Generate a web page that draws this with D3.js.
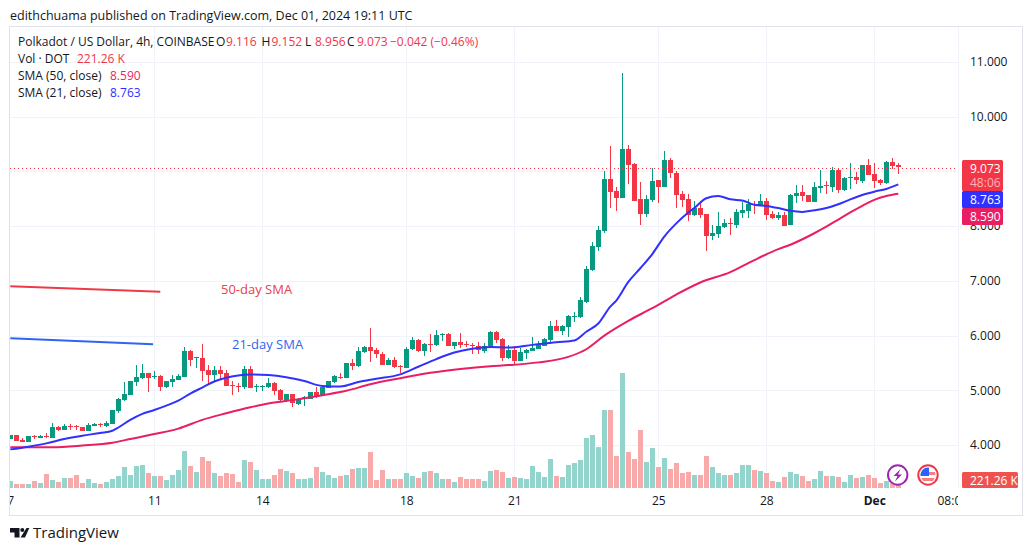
<!DOCTYPE html>
<html><head><meta charset="utf-8">
<script src="https://cdnjs.cloudflare.com/ajax/libs/d3/7.8.5/d3.min.js"></script>
<style>
html,body{margin:0;padding:0;background:#fff;overflow:hidden}
svg{display:block}
text{font-family:"Open Sans",Roboto,sans-serif}
</style></head><body><svg id="c" width="1033" height="551"></svg>
<script>
const opens=[4.11,4.18,4.09,4.05,4.16,4.13,4.16,4.13,4.33,4.27,4.34,4.34,4.33,4.26,4.35,4.38,4.35,4.38,4.62,4.82,4.91,5.15,5.22,5.32,5.25,5.26,5.06,5.15,5.19,5.24,5.72,5.59,5.59,5.37,5.28,5.37,5.32,5.09,5.08,5.06,5.39,5.07,5.07,5.06,5.13,5.00,4.80,4.93,4.75,4.87,4.84,4.97,4.90,5.04,5.15,5.25,5.22,5.50,5.44,5.70,5.79,5.74,5.66,5.46,5.55,5.44,5.41,5.75,5.92,5.72,5.85,5.83,6.02,6.03,5.81,5.88,5.85,5.83,5.81,5.72,5.81,6.06,5.94,5.59,5.74,5.53,5.68,5.72,5.75,5.81,5.92,6.17,6.08,6.16,6.34,6.34,6.61,7.20,7.62,7.91,8.86,8.64,8.51,9.41,9.14,8.50,8.22,8.48,8.84,8.72,9.21,8.97,8.59,8.50,8.20,8.33,8.22,7.82,7.86,7.98,8.06,8.02,8.24,8.28,8.40,8.37,8.46,8.22,8.15,8.20,8.02,8.55,8.62,8.57,8.44,8.70,8.75,8.72,9.03,8.66,8.88,8.90,8.83,9.12,8.95,8.84,8.79,9.17,9.116];
const highs=[4.19,4.18,4.13,4.16,4.19,4.19,4.22,4.40,4.35,4.38,4.38,4.37,4.33,4.40,4.40,4.40,4.44,4.64,4.86,5.16,5.17,5.46,5.48,5.32,5.35,5.28,5.17,5.28,5.30,5.79,5.74,5.61,5.85,5.46,5.44,5.44,5.37,5.17,5.13,5.44,5.44,5.11,5.10,5.22,5.15,5.02,4.93,4.93,4.86,4.90,4.97,5.06,5.08,5.17,5.28,5.32,5.50,5.57,5.79,5.81,6.14,5.77,5.70,5.59,5.61,5.46,5.79,5.97,5.94,5.86,6.03,6.10,6.05,6.05,5.88,6.05,5.90,5.86,5.88,5.86,6.08,6.08,5.96,5.83,5.81,5.77,5.75,5.97,5.90,5.95,6.27,6.28,6.19,6.38,6.43,6.70,7.27,7.71,8.00,9.01,9.46,8.72,10.80,9.48,9.15,8.81,8.57,9.06,8.84,9.37,9.25,9.01,8.64,8.59,8.46,8.44,8.22,8.02,8.26,8.13,8.15,8.31,8.44,8.49,8.46,8.59,8.51,8.28,8.26,8.26,8.59,8.75,8.75,8.57,8.81,9.03,8.83,9.08,9.06,8.90,9.15,8.99,9.12,9.23,9.15,8.86,9.19,9.25,9.152];
const lows=[4.11,4.07,4.05,4.05,4.11,4.13,4.13,4.13,4.26,4.27,4.27,4.27,4.26,4.26,4.35,4.33,4.33,4.38,4.59,4.80,4.91,5.08,5.21,4.97,5.21,4.99,5.04,5.06,5.19,5.24,5.44,5.41,5.17,5.11,5.15,5.19,5.07,4.91,4.97,5.02,5.04,4.97,4.99,5.04,4.91,4.80,4.79,4.69,4.73,4.71,4.84,4.86,4.90,5.04,5.13,5.21,5.22,5.37,5.43,5.68,5.52,5.59,5.46,5.46,5.41,5.32,5.41,5.74,5.70,5.63,5.70,5.81,5.90,5.81,5.75,5.77,5.79,5.66,5.66,5.68,5.81,5.86,5.53,5.57,5.46,5.53,5.57,5.72,5.75,5.81,5.88,6.08,6.01,5.97,6.25,6.32,6.59,7.18,7.55,7.87,8.33,8.28,8.51,8.77,8.46,8.02,8.17,8.44,8.42,8.72,8.88,8.33,8.35,8.09,8.19,8.15,7.55,7.75,7.78,7.97,7.84,7.97,8.15,8.15,8.22,8.37,8.11,8.13,8.11,8.00,8.02,8.42,8.46,8.44,8.44,8.61,8.59,8.62,8.61,8.64,8.68,8.77,8.79,8.93,8.70,8.75,8.77,9.04,8.956];
const closes=[4.19,4.07,4.06,4.16,4.15,4.17,4.15,4.33,4.27,4.35,4.33,4.33,4.26,4.37,4.38,4.37,4.40,4.64,4.84,4.93,5.17,5.24,5.32,5.22,5.26,5.06,5.17,5.21,5.26,5.72,5.55,5.60,5.35,5.28,5.37,5.30,5.08,5.08,5.07,5.39,5.04,5.08,5.08,5.13,4.99,4.82,4.93,4.77,4.84,4.88,4.97,4.88,5.06,5.17,5.26,5.22,5.50,5.44,5.72,5.79,5.72,5.66,5.46,5.55,5.43,5.43,5.75,5.92,5.72,5.85,5.84,6.01,6.03,5.81,5.88,5.83,5.84,5.81,5.74,5.81,6.06,5.92,5.59,5.74,5.53,5.70,5.74,5.77,5.83,5.94,6.17,6.08,6.17,6.36,6.35,6.65,7.22,7.64,7.93,8.86,8.62,8.51,9.41,9.12,8.46,8.22,8.50,8.82,8.72,9.21,8.97,8.57,8.48,8.20,8.33,8.20,7.82,7.87,8.00,8.06,8.05,8.26,8.29,8.40,8.38,8.46,8.20,8.15,8.20,8.00,8.57,8.61,8.55,8.44,8.72,8.73,8.74,9.03,8.66,8.88,8.90,8.84,9.12,8.93,8.83,8.79,9.17,9.10,9.073];
const volumesK=[350,200,200,200,350,250,700,400,300,500,500,650,250,450,250,200,300,450,600,1050,650,1100,1150,750,600,600,400,650,900,1850,1100,800,1550,1350,750,600,750,700,300,1400,1300,900,450,450,650,950,850,750,450,450,500,1050,800,650,500,600,650,950,1000,1000,1800,400,900,450,450,450,750,600,500,800,850,750,450,450,300,550,450,450,450,350,850,900,800,500,550,500,450,1100,800,550,1450,600,550,1150,1250,1400,2500,2650,2050,3900,3900,1600,5750,1800,1450,2900,1300,2000,1050,1500,950,1250,750,800,650,650,1580,1030,730,630,630,730,1130,1150,900,850,750,350,300,550,800,700,600,350,450,850,600,600,550,300,650,500,550,650,500,250,350,230,221.26];
const sma21Index=[0,3,6,9,12,15,17,18,20,22,24,26,28,30,32,34,36,38,40,43,46,49,52,55,58,61,65,68,71,74,77,80,83,87,91,94,96,98,100,101,103,105,107,109,111,113,114,116,118,120,122,124,126,128,130,132,134,136,138,140,142,144,146,148];
const sma21Values=[3.92,3.97,4.03,4.11,4.17,4.22,4.26,4.32,4.46,4.57,4.64,4.72,4.81,4.94,5.05,5.16,5.23,5.27,5.29,5.28,5.24,5.17,5.08,5.07,5.15,5.21,5.29,5.43,5.57,5.69,5.76,5.79,5.78,5.83,5.88,5.91,6.07,6.22,6.53,6.64,6.98,7.23,7.49,7.81,8.05,8.25,8.33,8.51,8.55,8.49,8.47,8.39,8.37,8.33,8.28,8.26,8.29,8.33,8.40,8.49,8.57,8.63,8.68,8.763];
const sma50Index=[0,4,7,12,17,20,24,28,32,36,40,43,47,52,56,60,65,70,75,80,83,88,93,96,99,103,107,111,115,120,124,128,130,134,136,138,140,142,144,146,148];
const sma50Values=[3.96,3.96,3.96,3.99,4.04,4.11,4.20,4.30,4.46,4.58,4.69,4.76,4.82,4.91,4.99,5.11,5.22,5.32,5.39,5.44,5.46,5.51,5.61,5.75,6.00,6.27,6.50,6.75,6.97,7.16,7.38,7.58,7.66,7.87,7.99,8.12,8.25,8.37,8.48,8.55,8.590];
const priceTicks=[4,5,6,7,8,9,10,11];
const timeTickIndex=[0,24,42,66,84,108,126,144,157];
const timeTickLabels=["7","11","14","18","21","25","28","Dec","08:00"];
const annotationIndex=[0,25];
const annotation50=[6.90,6.80];
const annotation21=[5.95,5.84];
const legendLines=[["Polkadot / US Dollar, 4h, COINBASE",""],["Vol · DOT",""],["SMA (50, close)",""],["SMA (21, close)",""]];
const ohlc=[["O","9.116"],["H","9.152"],["L","8.956"],["C","9.073"]];
const changeText="−0.042 (−0.46%)";

const GREEN="#089981",RED="#f23645",BLUE="#3030ff",PINK="#e91e63",INK="#131722",FRAME="#e0e3eb",GRID="#f0f3fa";
const svg=d3.select("#c");
const paneL=10,paneR=958,paneT=27,paneB=488;
const x=d3.scaleLinear().domain([0,148]).range([10.3,898.3]);
const y=d3.scaleLinear().domain([4,11]).range([445,62]);
const yV=d3.scaleLinear().domain([0,6000]).range([488,368]);
const defs=svg.append("defs");
defs.append("clipPath").attr("id","pane").append("rect").attr("x",paneL).attr("y",paneT).attr("width",paneR-paneL).attr("height",paneB-paneT);
defs.append("clipPath").attr("id","timeClip").append("rect").attr("x",paneL).attr("y",489).attr("width",paneR-paneL).attr("height",26);
defs.append("clipPath").attr("id","flagClip").append("circle").attr("cx",928).attr("cy",475).attr("r",7.5);

// grid
const grid=svg.append("g").attr("shape-rendering","crispEdges");
grid.selectAll("line.h").data(priceTicks).join("line").attr("x1",paneL).attr("x2",paneR).attr("y1",d=>Math.round(y(d))+.5).attr("y2",d=>Math.round(y(d))+.5).attr("stroke",GRID);
grid.selectAll("line.v").data(timeTickIndex.slice(1,8)).join("line").attr("class","v").attr("y1",paneT).attr("y2",paneB).attr("x1",d=>Math.round(x(d))+.5).attr("x2",d=>Math.round(x(d))+.5).attr("stroke",GRID);

const pane=svg.append("g").attr("clip-path","url(#pane)");
// volume
pane.append("g").selectAll("rect").data(volumesK).join("rect")
 .attr("x",(d,i)=>x(i)-2.5).attr("width",5).attr("y",d=>yV(d)).attr("height",d=>yV(0)-yV(d))
 .attr("fill",(d,i)=>closes[i]>=opens[i]?"#93d4cd":"#f8a9a9").attr("shape-rendering","crispEdges");
// sma annotation segments
const annLine=d3.line().x((d,i)=>x(annotationIndex[i])).y(d=>y(d));
pane.append("path").attr("d",annLine(annotation50)).attr("fill","none").attr("stroke","#ee3a48").attr("stroke-width",2);
pane.append("path").attr("d",d3.line().x((d,i)=>x(i?23.8:0)).y(d=>y(d))(annotation21)).attr("fill","none").attr("stroke","#2f66f0").attr("stroke-width",2);
// candles
const cg=pane.append("g").selectAll("g").data(closes).join("g").attr("fill",(d,i)=>d>=opens[i]?GREEN:RED).attr("stroke",(d,i)=>d>=opens[i]?GREEN:RED).attr("shape-rendering","crispEdges");
cg.append("line").attr("x1",(d,i)=>Math.round(x(i))+.5).attr("x2",(d,i)=>Math.round(x(i))+.5).attr("y1",(d,i)=>y(highs[i])).attr("y2",(d,i)=>y(lows[i])).attr("stroke-width",1);
cg.append("rect").attr("stroke","none").attr("x",(d,i)=>Math.round(x(i))+.5-2.5).attr("width",5)
 .attr("y",(d,i)=>y(Math.max(d,opens[i]))).attr("height",(d,i)=>Math.max(1,Math.abs(y(d)-y(opens[i]))));
// SMAs
const sm=(idx)=>d3.line().x((d,i)=>x(idx[i])).y(d=>y(d)).curve(d3.curveMonotoneX);
pane.append("path").attr("d",sm(sma50Index)(sma50Values)).attr("fill","none").attr("stroke",PINK).attr("stroke-width",2);
pane.append("path").attr("d",sm(sma21Index)(sma21Values)).attr("fill","none").attr("stroke",BLUE).attr("stroke-width",2);
// last price dotted
svg.append("line").attr("x1",paneL).attr("x2",paneR).attr("y1",168.5).attr("y2",168.5).attr("stroke",RED).attr("stroke-dasharray","1 3").attr("shape-rendering","crispEdges");

// frame
svg.append("rect").attr("x",9.5).attr("y",26.5).attr("width",1012.5).attr("height",489).attr("fill","none").attr("stroke",FRAME).attr("shape-rendering","crispEdges");
svg.append("line").attr("x1",958.5).attr("x2",958.5).attr("y1",27).attr("y2",488).attr("stroke",GRID).attr("shape-rendering","crispEdges");

// axes
const ya=d3.axisRight(y).tickValues(priceTicks).tickFormat(d3.format(".3f")).tickSize(0).tickPadding(0);
const yg=svg.append("g").attr("transform","translate(970,0)").call(ya);
yg.select(".domain").remove();
yg.selectAll("text").attr("font-size",12).attr("fill",INK).attr("x",0);
const xa=d3.axisBottom(x).tickValues(timeTickIndex).tickFormat((d,i)=>timeTickLabels[i]).tickSize(0).tickPadding(0);
const xg=svg.append("g").attr("clip-path","url(#timeClip)").append("g").attr("transform","translate(0,496)").call(xa);
xg.select(".domain").remove();
xg.selectAll("text").attr("font-size",12).attr("fill",INK).attr("font-weight",(d,i)=>timeTickLabels[i]==="Dec"?700:400);

// price labels
function tag(yy,h,fill,txt,w){svg.append("rect").attr("x",962).attr("y",yy).attr("width",w||41).attr("height",h).attr("rx",1.5).attr("fill",fill);}
function tagText(tx,ty,txt,c){svg.append("text").attr("x",tx).attr("y",ty).attr("font-size",12).attr("fill",c||"#fff").text(txt);}
tag(160,31,RED);tag(191,17,BLUE);tag(208,17,PINK);tag(472,16,"#ef5350","",56);
tagText(970,173,closes[148].toFixed(3));tagText(970,187,"48:06","#fbb4ba");
tagText(970,204,sma21Values[sma21Values.length-1].toFixed(3));
tagText(970,221,sma50Values[sma50Values.length-1].toFixed(3));
tagText(970,485,volumesK[148].toFixed(2)+" K");

// icons
svg.append("circle").attr("cx",897.7).attr("cy",475).attr("r",9.7).attr("fill","#fff").attr("stroke","#9c27b0").attr("stroke-width",2);
svg.append("path").attr("d","M900.5 469 L893.5 476 L897.5 476 L895 481.5 L902 474.5 L898 474.5 Z").attr("fill","#9c27b0");
svg.append("circle").attr("cx",928).attr("cy",475).attr("r",9.7).attr("fill","#fff").attr("stroke","#f23645").attr("stroke-width",2);
const fl=svg.append("g").attr("clip-path","url(#flagClip)");
fl.append("rect").attr("x",920).attr("y",472).attr("width",16).attr("height",3).attr("fill","#f77c80");
fl.append("rect").attr("x",920).attr("y",478).attr("width",16).attr("height",3).attr("fill","#f77c80");
fl.append("rect").attr("x",920).attr("y",467).attr("width",9).attr("height",9).attr("fill","#2962ff");

// texts
function t(xx,yy,s,c,size,weight){return svg.append("text").attr("x",xx).attr("y",yy).attr("font-size",size||12).attr("fill",c||INK).attr("font-weight",weight||400).text(s);}
t(10,19.5,"edithchuama published on TradingView.com, Dec 01, 2024 19:11 UTC","#131722",12.5);
const lg=[46,63,80,97];
t(18,lg[0],legendLines[0][0]);
const ox=[216,262,305,347], lab=[[216,"O"],[261.5,"H"],[305,"L"],[347,"C"]];
ohlc.forEach((d,i)=>{t(lab[i][0],lg[0],d[0]);t(lab[i][0]+10,lg[0],d[1],RED);});
t(390,lg[0],changeText,RED);
t(18,lg[1],legendLines[1][0]);t(77,lg[1],volumesK[148].toFixed(2)+" K",RED);
t(18,lg[2],legendLines[2][0]);t(110,lg[2],sma50Values[sma50Values.length-1].toFixed(3),PINK);
t(18,lg[3],legendLines[3][0]);t(110,lg[3],sma21Values[sma21Values.length-1].toFixed(3),BLUE);
t(221,294,"50-day SMA","#e8404c",13);
t(232,349,"21-day SMA","#2f66f0",13);
// logo
svg.append("path").attr("d","M10 528 H19.5 V537.5 H14.5 V532.5 H10 Z M26.5 528 H29.3 L25 537.5 H20.5 Z").attr("fill","#131722");
svg.append("circle").attr("cx",22.3).attr("cy",530).attr("r",2).attr("fill","#131722");
t(33,538,"TradingView","#131722",15);
</script></body></html>
